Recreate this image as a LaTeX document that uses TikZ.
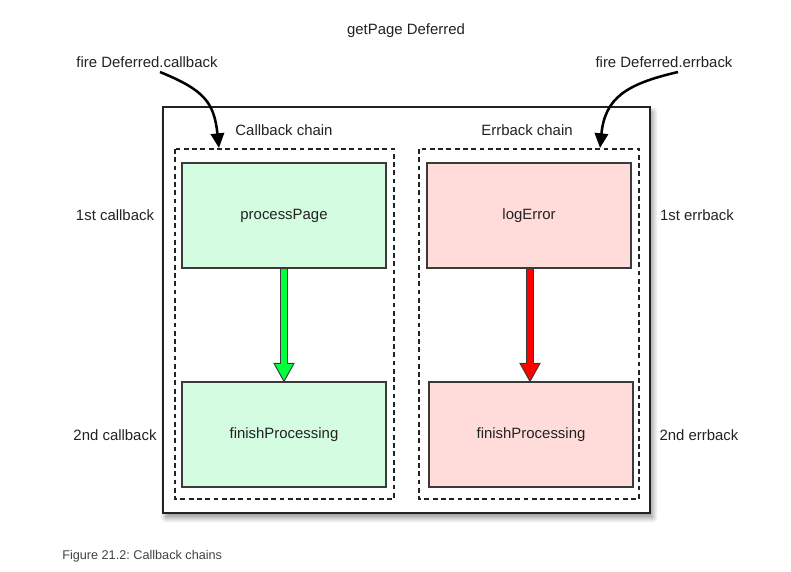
\documentclass[tikz,border=0pt]{standalone}
\usepackage{fontspec}
\setmainfont{Liberation Sans}
\frenchspacing
\usetikzlibrary{arrows.meta,calc,shadows.blur}
\definecolor{txt}{HTML}{222222}
\definecolor{edge}{HTML}{3A3A3A}
\definecolor{gfill}{HTML}{D3FCE0}
\definecolor{rfill}{HTML}{FFDCDA}
\definecolor{garrow}{HTML}{00FF3C}
\definecolor{rarrow}{HTML}{FF0000}
\tikzset{
  lbl/.style={text=txt, font=\fontsize{11.2}{13}\selectfont, inner sep=0pt},
  cbox/.style={draw=edge, line width=0.9pt, minimum width=153pt, minimum height=78.75pt, inner sep=0pt, text=txt, font=\fontsize{11.2}{13}\selectfont},
  gbox/.style={cbox, fill=gfill},
  rbox/.style={cbox, fill=rfill},
  chainbox/.style={draw=txt, line width=0.8pt, dash pattern=on 3.6pt off 2.6pt},
  outerbox/.style={draw=txt, line width=1pt, fill=white, blur shadow={shadow xshift=2pt, shadow yshift=-3.5pt, shadow blur radius=4pt, shadow blur steps=10, shadow opacity=45}},
  firearrow/.style={line width=1.9pt, draw=black, -{Triangle[length=11pt,width=10pt]}},
  fatarrow/.style={draw=edge, line width=0.7pt, line join=miter},
}
\begin{document}
\begin{tikzpicture}[x=0.75pt,y=-0.75pt]
\useasboundingbox (0,0) rectangle (791,571);
% outer container
\node[outerbox, minimum width=365.25pt, minimum height=304.5pt, inner sep=0pt] (outer) at (406.5,310) {};
% chain boxes
\draw[chainbox] (175,149) rectangle (394,499);
\draw[chainbox] (419,149) rectangle (639,499);
\coordinate (cbtop) at (219,148);
\coordinate (ebtop) at (600,148);
% callbacks
\node[gbox] (pp) at (284,215.5) {processPage};
\node[gbox] (fp1) at (284,434.5) {finishProcessing};
\node[rbox] (le) at (529,215.5) {logError};
\node[rbox] (fp2) at (531,434.5) {finishProcessing};
% fat arrows
\draw[fatarrow, fill=garrow]
  ($(pp.south)+(-3.5,0)$) -- ($(fp1.north)+(-3.5,-18)$) -- ($(fp1.north)+(-10,-18)$)
  -- (fp1.north) -- ($(fp1.north)+(10,-18)$) -- ($(fp1.north)+(3.5,-18)$)
  -- ($(pp.south)+(3.5,0)$) -- cycle;
\coordinate (leb) at ($(le.south)+(1,0)$);
\coordinate (fp2n) at ($(fp2.north)+(-1,0)$);
\draw[fatarrow, fill=rarrow]
  ($(leb)+(-3.5,0)$) -- ($(fp2n)+(-3.5,-18)$) -- ($(fp2n)+(-10,-18)$)
  -- (fp2n) -- ($(fp2n)+(10,-18)$) -- ($(fp2n)+(3.5,-18)$)
  -- ($(leb)+(3.5,0)$) -- cycle;
% labels
\node[lbl] (title) at (406,31) {getPage Deferred};
\node[lbl] (firecb) at (147,62) {fire Deferred.callback};
\node[lbl] (fireeb) at (664,62) {fire Deferred.errback};
\node[lbl] (cbchain) at (284,130) {Callback chain};
\node[lbl] (ebchain) at (527,130) {Errback chain};
\node[lbl] (cb1) at (115,215.5) {1st callback};
\node[lbl] (cb2) at (115,435) {2nd callback};
\node[lbl] (eb1) at (697,215.5) {1st errback};
\node[lbl] (eb2) at (699,435) {2nd errback};
\node[lbl, anchor=west, text=txt!85, font=\fontsize{9.5}{11}\selectfont] (caption) at (62,556) {Figure 21.2: Callback chains};
% fire arrows
\coordinate (cbstart) at (160,72);
\coordinate (ebstart) at (678,72);
\draw[firearrow] (cbstart) .. controls (204,90) and (214,102) .. (cbtop);
\draw[firearrow] (ebstart) .. controls (626,84) and (605,98) .. (ebtop);
\end{tikzpicture}
\end{document}
